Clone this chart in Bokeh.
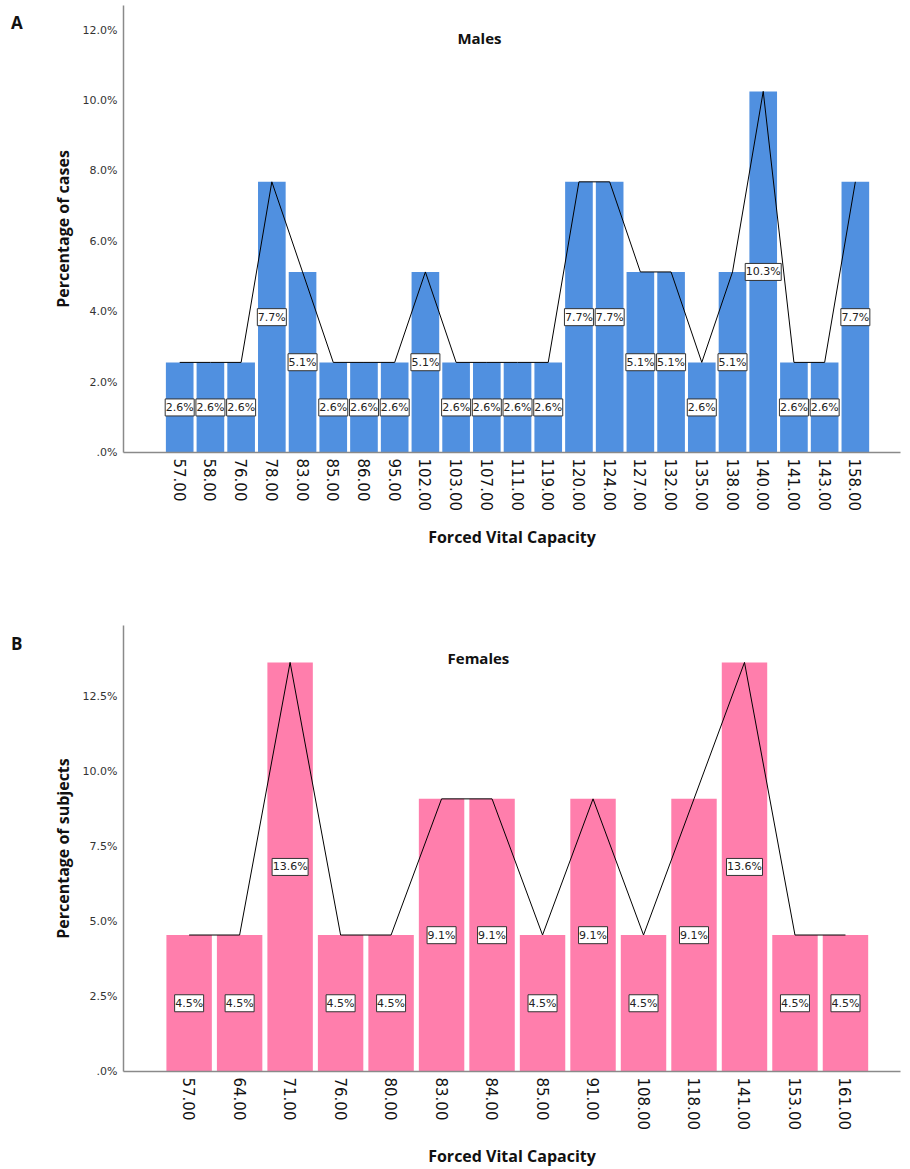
import math
from bokeh.plotting import figure
from bokeh.models import Range1d, FixedTicker, Label, ColumnDataSource, Div
from bokeh.layouts import column, row
from bokeh.embed import file_html
from bokeh.resources import INLINE
from bokeh.core.properties import value

# ---- data ----
male_fvc = ["57.00", "58.00", "76.00", "78.00", "83.00", "85.00", "86.00", "95.00",
            "102.00", "103.00", "107.00", "111.00", "119.00", "120.00", "124.00",
            "127.00", "132.00", "135.00", "138.00", "140.00", "141.00", "143.00", "158.00"]
male_pct = [2.56, 2.56, 2.56, 7.69, 5.13, 2.56, 2.56, 2.56, 5.13, 2.56, 2.56, 2.56, 2.56,
            7.69, 7.69, 5.13, 5.13, 2.56, 5.13, 10.26, 2.56, 2.56, 7.69]
male_labels = ["2.6%", "2.6%", "2.6%", "7.7%", "5.1%", "2.6%", "2.6%", "2.6%", "5.1%",
               "2.6%", "2.6%", "2.6%", "2.6%", "7.7%", "7.7%", "5.1%", "5.1%", "2.6%",
               "5.1%", "10.3%", "2.6%", "2.6%", "7.7%"]
male_yticks = [0, 2, 4, 6, 8, 10, 12]
male_ytick_labels = [".0%", "2.0%", "4.0%", "6.0%", "8.0%", "10.0%", "12.0%"]

female_fvc = ["57.00", "64.00", "71.00", "76.00", "80.00", "83.00", "84.00", "85.00",
              "91.00", "108.00", "118.00", "141.00", "153.00", "161.00"]
female_pct = [4.55, 4.55, 13.64, 4.55, 4.55, 9.09, 9.09, 4.55, 9.09, 4.55, 9.09, 13.64,
              4.55, 4.55]
female_labels = ["4.5%", "4.5%", "13.6%", "4.5%", "4.5%", "9.1%", "9.1%", "4.5%", "9.1%",
                 "4.5%", "9.1%", "13.6%", "4.5%", "4.5%"]
female_yticks = [0, 2.5, 5, 7.5, 10, 12.5]
female_ytick_labels = [".0%", "2.5%", "5.0%", "7.5%", "10.0%", "12.5%"]

BOLD_FONT = "Open Sans"
TICK_FONT = "DejaVu Sans"
DIV_W = 30


def make_panel(cats, pct, labels, yticks, yticklabels, color, title, ylabel,
               height, xr, yr, bw, min_top, min_bottom, title_pos):
    n = len(cats)
    idx = list(range(n))
    p = figure(width=910 - DIV_W, height=height, output_backend="svg",
               toolbar_location=None,
               x_range=Range1d(*xr), y_range=Range1d(*yr),
               min_border_left=123 - DIV_W, min_border_right=10,
               min_border_top=min_top, min_border_bottom=min_bottom)
    p.outline_line_color = None
    p.grid.visible = False
    p.background_fill_color = "white"

    src = ColumnDataSource(dict(x=idx, top=pct, mid=[v / 2 for v in pct], lab=labels,
                                w=[7 * len(s) + 1 for s in labels]))
    p.vbar(x="x", top="top", bottom=0, width=bw, source=src, fill_color=color,
           line_color=None)
    p.line(x="x", y="top", source=src, line_color="black", line_width=1)
    p.rect(x="x", y="mid", width="w", height=17, width_units="screen",
           height_units="screen", source=src, fill_color="white",
           line_color="#333333", line_width=1)
    p.text(x="x", y="mid", text="lab", source=src, text_align="center",
           text_baseline="middle", text_font=value(TICK_FONT), text_font_size="11px",
           text_color="#222222")

    # x axis
    xa = p.xaxis[0]
    xa.ticker = FixedTicker(ticks=idx)
    xa.major_label_overrides = {i: c for i, c in zip(idx, cats)}
    xa.major_label_orientation = -math.pi / 2
    xa.major_label_text_font = TICK_FONT
    xa.major_label_text_font_size = "15px"
    xa.major_label_text_color = "#111111"
    xa.major_label_standoff = 0
    xa.major_tick_line_color = None
    xa.minor_tick_line_color = None
    xa.axis_line_color = "#8a8a8a"
    xa.axis_line_width = 1.5
    xa.axis_label = "Forced Vital Capacity"
    xa.axis_label_text_font = BOLD_FONT
    xa.axis_label_text_font_style = "bold"
    xa.axis_label_text_font_size = "16px"
    xa.axis_label_text_color = "#111111"
    xa.axis_label_standoff = 12

    # y axis
    ya = p.yaxis[0]
    ya.ticker = FixedTicker(ticks=yticks)
    ya.major_label_overrides = {t: s for t, s in zip(yticks, yticklabels)}
    ya.major_label_text_font = TICK_FONT
    ya.major_label_text_font_size = "11px"
    ya.major_label_text_color = "#333333"
    ya.major_label_standoff = 0
    ya.major_tick_line_color = None
    ya.minor_tick_line_color = None
    ya.axis_line_color = "#8a8a8a"
    ya.axis_line_width = 1.5
    ya.axis_label = ylabel
    ya.axis_label_text_font = BOLD_FONT
    ya.axis_label_text_font_style = "bold"
    ya.axis_label_text_font_size = "16px"
    ya.axis_label_text_color = "#111111"
    ya.axis_label_standoff = 6

    p.add_layout(Label(x=title_pos[0], y=title_pos[1], text=title, text_align="center",
                       text_baseline="middle", text_font=BOLD_FONT,
                       text_font_style="bold", text_font_size="15px",
                       text_color="#111111"))
    return p


def letter_div(letter, height, top):
    html = ('<div style="position:relative; left:11px; top:%dpx; '
            'font-family:\'Open Sans\'; font-weight:bold; font-size:17px; '
            'line-height:1; color:#111111;">%s</div>' % (top, letter))
    return Div(text=html, width=DIV_W, height=height, margin=(0, 0, 0, 0))


p1 = make_panel(male_fvc, male_pct, male_labels, male_yticks, male_ytick_labels,
                "#5090E0", "Males", "Percentage of cases",
                height=600, xr=(-1.83, 23.47), yr=(0, 12.7), bw=0.9,
                min_top=5, min_bottom=148, title_pos=(9.76, 11.79))
p2 = make_panel(female_fvc, female_pct, female_labels, female_yticks, female_ytick_labels,
                "#FF7EAC", "Females", "Percentage of subjects",
                height=569, xr=(-1.30, 14.09), yr=(0, 14.87), bw=0.9,
                min_top=25, min_bottom=98, title_pos=(5.73, 13.8))

layout = column(row(letter_div("A", 600, 14), p1, spacing=0),
                row(letter_div("B", 569, 35), p2, spacing=0), spacing=0)
open("out.html", "w").write(file_html(layout, INLINE))
